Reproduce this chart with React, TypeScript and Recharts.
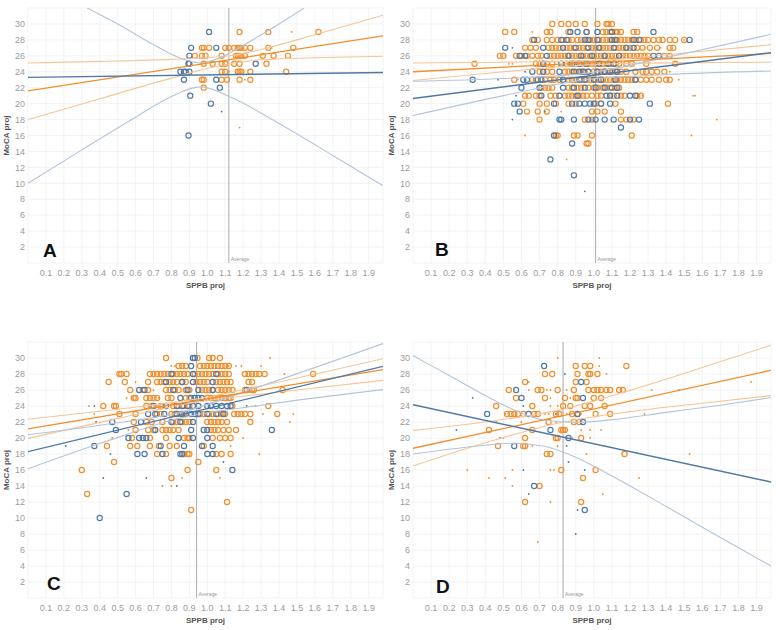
import React from 'react';
import { ScatterChart, Scatter, XAxis, YAxis, CartesianGrid, ReferenceLine, Label } from 'recharts';

type Row = [number, number[]];
type Pt = [number, number];

const xTicks = [0.1, 0.2, 0.3, 0.4, 0.5, 0.6, 0.7, 0.8, 0.9, 1.0, 1.1, 1.2, 1.3, 1.4, 1.5, 1.6, 1.7, 1.8, 1.9];
const yTicks = [2, 4, 6, 8, 10, 12, 14, 16, 18, 20, 22, 24, 26, 28, 30];
const xTitle = 'SPPB proj';
const yTitle = 'MoCA proj';
const avgLabel = 'Average';

// ---------- Panel A ----------
const aAverage = 1.12;
const aOrangeRings: Row[] = [
  [29, [1.18, 1.34, 1.62]],
  [27, [0.97, 0.98, 1.01, 1.10, 1.12, 1.15, 1.17, 1.18, 1.19, 1.21, 1.24, 1.34, 1.48]],
  [26, [0.93, 0.97, 0.99, 1.08, 1.16, 1.17, 1.18, 1.19, 1.21, 1.31, 1.37, 1.45]],
  [25, [0.98, 1.03, 1.08, 1.10, 1.15, 1.18, 1.33]],
  [24, [1.08, 1.10, 1.17, 1.18, 1.19, 1.24, 1.44]],
  [23, [0.97, 0.98, 1.08, 1.11, 1.18, 1.24]],
  [22, [0.98]],
];
const aBlueRings: Row[] = [
  [29, [1.01]],
  [27, [0.91, 1.05]],
  [26, [0.90]],
  [25, [0.895, 0.90, 1.27]],
  [24, [0.85, 0.87, 0.88, 0.90]],
  [23, [0.87, 1.05]],
  [22, [1.07]],
  [21, [0.905]],
  [20, [1.02]],
  [16, [0.895]],
];
const aOrangeDots: Pt[] = [[1.47, 29], [1.18, 17], [1.12, 24], [1.21, 23], [1.36, 27]];
const aBlueDots: Pt[] = [[1.08, 19]];
const aOrangeFit: Pt[] = [[0, 21.6], [1.98, 28.5]];
const aOrangeUpper: Pt[] = [[0, 25.1], [0.4, 25.3], [0.8, 25.55], [1.0, 25.75], [1.15, 26.1], [1.3, 26.8], [1.6, 28.65], [1.98, 31.1]];
const aOrangeLower: Pt[] = [[0, 18.0], [0.4, 20.6], [0.8, 23.2], [1.0, 24.4], [1.15, 25.1], [1.3, 25.5], [1.6, 25.75], [1.98, 25.95]];
const aBlueFit: Pt[] = [[0, 23.3], [1.98, 23.9]];
const aBlueUpper: Pt[] = [[0.33, 32], [0.5, 30], [0.7, 27.4], [0.85, 25.7], [0.96, 25.1], [1.07, 25.75], [1.2, 27.3], [1.35, 29.3], [1.54, 32]];
const aBlueLower: Pt[] = [[0, 10.0], [0.3, 14.2], [0.6, 18.3], [0.8, 20.9], [0.96, 22.1], [1.15, 20.6], [1.4, 17.5], [1.7, 13.5], [1.98, 9.7]];

// ---------- Panel B ----------
const bAverage = 1.01;
const bOrangeRings: Row[] = [
  [30, [0.77, 0.82, 0.86, 0.90, 0.95, 1.02, 1.07, 1.08, 1.10]],
  [29, [0.51, 0.56, 0.74, 0.76, 0.86, 0.96, 1.05, 1.07, 1.09, 1.10, 1.12, 1.13, 1.15, 1.22, 1.24]],
  [28, [0.66, 0.69, 0.74, 0.77, 0.80, 0.83, 0.86, 0.88, 0.91, 0.93, 0.96, 0.98, 1.00, 1.03, 1.05, 1.07, 1.09, 1.11, 1.13, 1.15, 1.17, 1.19, 1.21, 1.23, 1.26, 1.28, 1.30, 1.33, 1.36, 1.38, 1.42, 1.45, 1.50]],
  [27, [0.62, 0.65, 0.68, 0.75, 0.77, 0.79, 0.81, 0.85, 0.87, 0.89, 0.92, 0.94, 0.96, 0.99, 1.01, 1.03, 1.05, 1.07, 1.09, 1.12, 1.14, 1.16, 1.18, 1.20, 1.24, 1.27, 1.31, 1.35, 1.42, 1.44]],
  [26, [0.48, 0.50, 0.57, 0.60, 0.63, 0.66, 0.69, 0.71, 0.76, 0.78, 0.80, 0.82, 0.84, 0.86, 0.88, 0.90, 0.92, 0.94, 0.96, 0.98, 1.00, 1.02, 1.04, 1.06, 1.08, 1.10, 1.12, 1.14, 1.16, 1.18, 1.20, 1.22, 1.24, 1.26, 1.28, 1.30, 1.39, 1.42]],
  [25, [0.34, 0.68, 0.70, 0.72, 0.74, 0.77, 0.85, 0.87, 0.89, 0.91, 0.93, 0.95, 0.97, 0.99, 1.01, 1.03, 1.05, 1.07, 1.09, 1.12, 1.14, 1.18, 1.21, 1.29, 1.45]],
  [24, [0.70, 0.74, 0.77, 0.84, 0.86, 0.88, 0.90, 0.93, 0.95, 0.97, 1.00, 1.02, 1.04, 1.06, 1.08, 1.10, 1.12, 1.15, 1.18, 1.23, 1.27, 1.29, 1.32, 1.35, 1.39]],
  [23, [0.56, 0.66, 0.68, 0.73, 0.76, 0.78, 0.81, 0.86, 0.88, 0.90, 0.93, 0.96, 0.98, 1.01, 1.03, 1.05, 1.07, 1.09, 1.11, 1.13, 1.15, 1.17, 1.19, 1.21, 1.23, 1.26, 1.29, 1.32, 1.36, 1.40, 1.42]],
  [22, [0.71, 0.73, 0.75, 0.77, 0.86, 0.88, 0.91, 0.93, 0.97, 1.00, 1.02, 1.05, 1.07, 1.09, 1.12, 1.14]],
  [21, [0.62, 0.64, 0.68, 0.70, 0.76, 0.79, 0.84, 0.86, 0.88, 0.90, 0.92, 0.94, 0.96, 0.99, 1.02, 1.04, 1.09, 1.11, 1.15, 1.17, 1.24, 1.26]],
  [20, [0.61, 0.70, 0.74, 0.79, 0.86, 0.90, 1.01, 1.04, 1.12, 1.41]],
  [19, [0.63, 0.69, 0.74, 0.99, 1.02, 1.06, 1.15]],
  [18, [0.70, 0.95, 0.99, 1.15, 1.18, 1.22]],
  [16, [0.79, 0.80, 0.89, 0.91, 0.99, 1.21]],
  [15, [0.96, 0.97]],
];
const bBlueRings: Row[] = [
  [29, [0.87, 0.91, 0.96, 1.02, 1.10, 1.33]],
  [28, [0.67, 0.82, 0.85, 0.95, 0.97, 1.02, 1.10, 1.12, 1.22, 1.25, 1.53]],
  [27, [0.51, 0.72, 0.83, 0.90, 0.97, 1.03, 1.11, 1.18, 1.22]],
  [26, [0.59, 0.62, 0.74, 0.86, 0.93, 0.99, 1.06, 1.14, 1.33, 1.36]],
  [25, [0.72, 0.82, 0.88, 0.92, 0.96, 1.03, 1.08, 1.11]],
  [24, [0.66, 0.72, 0.81, 0.89, 0.92, 0.94, 0.97, 1.02, 1.06, 1.09, 1.13]],
  [23, [0.33, 0.61, 0.63, 0.69, 0.71, 0.83, 0.92, 0.95, 1.00, 1.04, 1.12, 1.23]],
  [22, [0.60, 0.70, 0.83, 0.89, 0.95, 1.01, 1.06, 1.10, 1.13]],
  [21, [0.71, 0.81, 0.91, 1.07, 1.09, 1.13, 1.20, 1.23]],
  [20, [0.56, 0.58, 0.78, 0.88, 0.92, 0.95, 0.98, 1.00, 1.04, 1.09, 1.31]],
  [19, [0.59]],
  [18, [0.81, 0.82, 0.89, 0.97, 1.01, 1.06, 1.11, 1.20, 1.25]],
  [17, [1.15]],
  [16, [0.78]],
  [15, [0.88]],
  [13, [0.76]],
  [11, [0.89]],
];
const bOrangeDots: Pt[] = [[0.66, 29], [0.62, 16], [1.54, 16], [1.68, 18], [1.55, 21], [1.56, 21], [0.85, 13], [0.51, 26], [0.53, 25], [0.55, 25], [1.42, 24], [1.37, 27], [1.28, 27], [1.47, 23], [0.58, 23], [1.00, 19], [0.82, 19], [1.50, 28], [1.27, 21], [0.96, 18]];
const bBlueDots: Pt[] = [[0.47, 23], [0.55, 27], [0.55, 18], [0.57, 21], [0.95, 9], [0.62, 24], [0.73, 19], [0.61, 26]];
const bOrangeFit: Pt[] = [[0, 24.0], [1.98, 26.3]];
const bOrangeUpper: Pt[] = [[0, 25.1], [0.5, 25.2], [1.0, 25.4], [1.5, 26.35], [1.98, 27.4]];
const bOrangeLower: Pt[] = [[0, 22.9], [0.5, 24.0], [1.0, 24.9], [1.5, 25.15], [1.98, 25.2]];
const bBlueFit: Pt[] = [[0, 20.65], [1.98, 26.4]];
const bBlueUpper: Pt[] = [[0, 22.8], [0.5, 23.15], [0.95, 23.8], [1.4, 25.8], [1.98, 28.7]];
const bBlueLower: Pt[] = [[0, 18.5], [0.5, 21.0], [0.95, 23.0], [1.4, 23.65], [1.98, 24.1]];

// ---------- Panel C ----------
const cAverage = 0.94;
const cOrangeRings: Row[] = [
  [30, [0.77, 0.945, 1.01, 1.03, 1.07]],
  [29, [0.84, 0.86, 0.88, 0.96, 0.98, 1.00, 1.02, 1.04, 1.06, 1.08, 1.10, 1.12]],
  [28, [0.51, 0.52, 0.55, 0.68, 0.70, 0.72, 0.74, 0.76, 0.78, 0.81, 0.83, 0.85, 0.87, 0.89, 0.93, 0.95, 0.97, 0.99, 1.01, 1.03, 1.06, 1.08, 1.10, 1.12, 1.21, 1.23, 1.25, 1.27, 1.29, 1.32, 1.59]],
  [27, [0.45, 0.54, 0.67, 0.72, 0.74, 0.76, 0.79, 0.81, 0.83, 0.86, 0.88, 0.94, 0.96, 0.98, 1.00, 1.05, 1.07, 1.09, 1.11, 1.13, 1.23, 1.25]],
  [26, [0.57, 0.64, 0.67, 0.77, 0.79, 0.82, 0.84, 0.88, 0.90, 0.97, 0.99, 1.01, 1.03, 1.06, 1.08, 1.10, 1.12, 1.14, 1.21, 1.25, 1.26, 1.42]],
  [25, [0.59, 0.60, 0.66, 0.68, 0.70, 0.72, 0.78, 0.80, 0.88, 0.90, 1.00, 1.02, 1.04, 1.06, 1.08, 1.10, 1.12, 1.13]],
  [24, [0.42, 0.48, 0.49, 0.66, 0.69, 0.74, 0.75, 0.81, 0.84, 0.87, 0.90, 1.14, 1.34]],
  [23, [0.51, 0.60, 0.72, 0.74, 0.80, 0.82, 0.85, 0.87, 0.96, 0.98, 1.01, 1.03, 1.06, 1.08, 1.10, 1.15, 1.17, 1.19, 1.21, 1.24, 1.39]],
  [22, [0.59, 0.66, 0.69, 0.75, 0.81, 0.83, 0.86, 0.88, 0.90, 1.00, 1.02, 1.04, 1.06, 1.08, 1.11, 1.24]],
  [21, [0.60, 0.67, 0.70, 0.75, 0.77, 0.79, 0.81, 0.84, 1.02, 1.04, 1.06, 1.09, 1.12, 1.16]],
  [20, [0.58, 0.68, 0.77, 0.87, 0.89, 0.90, 1.03, 1.07, 1.10, 1.13]],
  [19, [0.44, 0.57, 0.61, 0.68, 0.73, 0.79, 0.83, 0.98]],
  [18, [0.72, 0.77, 0.87, 0.89, 0.90, 1.05, 1.08, 1.13]],
  [17, [0.48, 0.95]],
  [16, [0.30, 0.89, 1.05]],
  [15, [0.80]],
  [13, [0.33]],
  [12, [1.11]],
  [11, [0.91]],
];
const cBlueRings: Row[] = [
  [30, [0.92, 0.93]],
  [29, [0.91]],
  [28, [0.80, 0.92, 1.05]],
  [27, [0.77, 0.86, 0.92, 1.03]],
  [26, [0.62, 0.65, 0.81, 0.89, 0.95, 1.03, 1.22]],
  [25, [0.85, 0.91, 0.93, 0.95, 0.97]],
  [24, [0.70, 0.77, 0.83, 0.86, 0.89, 0.92, 0.95, 1.00, 1.02, 1.05, 1.08, 1.11, 1.13]],
  [23, [0.67, 0.71, 0.76, 0.83, 0.86, 0.88, 0.91, 0.93, 0.95, 1.00, 1.05, 1.09]],
  [22, [0.47, 0.63, 0.80, 0.85, 0.92]],
  [21, [0.49, 0.71, 0.91, 0.98, 1.00, 1.36]],
  [20, [0.56, 0.62, 0.64, 0.66, 0.84, 0.92, 1.00]],
  [19, [0.37, 0.74, 0.87, 0.97, 1.03]],
  [18, [0.61, 0.65, 0.75, 0.85, 0.86, 1.00, 1.03]],
  [16, [1.14]],
  [13, [0.55]],
  [10, [0.40]],
];
const cOrangeDots: Pt[] = [[0.34, 24], [0.37, 23], [0.38, 22], [0.47, 20], [0.56, 21], [0.55, 25], [0.58, 25], [0.60, 27], [0.70, 26], [0.73, 25], [0.80, 29], [0.82, 29], [0.75, 14], [0.80, 14], [0.86, 15], [1.12, 29], [1.16, 29], [1.19, 29], [1.30, 29], [1.35, 30], [1.43, 28], [1.45, 26], [1.48, 23], [1.46, 22], [1.29, 18], [1.07, 15], [1.20, 20], [1.13, 19], [1.27, 24], [1.31, 23]];
const cBlueDots: Pt[] = [[0.21, 19], [0.37, 24], [0.42, 15], [0.46, 18], [0.38, 22], [0.66, 15], [0.83, 14], [1.09, 17], [1.22, 24]];
const cOrangeFit: Pt[] = [[0, 21.15], [1.98, 28.55]];
const cOrangeUpper: Pt[] = [[0, 22.35], [0.5, 23.6], [0.92, 24.8], [1.4, 27.0], [1.98, 29.9]];
const cOrangeLower: Pt[] = [[0, 19.95], [0.5, 22.45], [0.92, 24.4], [1.4, 25.75], [1.98, 27.2]];
const cBlueFit: Pt[] = [[0, 18.3], [1.98, 28.95]];
const cBlueUpper: Pt[] = [[0, 20.4], [0.4, 21.6], [0.85, 23.2], [1.3, 26.5], [1.98, 31.8]];
const cBlueLower: Pt[] = [[0, 16.15], [0.4, 19.3], [0.85, 22.5], [1.3, 24.1], [1.98, 26.05]];

// ---------- Panel D ----------
const dAverage = 0.83;
const dOrangeRings: Row[] = [
  [29, [0.90, 0.95, 0.98, 1.18]],
  [28, [0.73, 0.77, 0.91, 0.97, 0.98, 1.02]],
  [27, [0.62, 0.90, 0.96]],
  [26, [0.53, 0.69, 0.71, 0.80, 0.89, 0.97, 1.00, 1.02, 1.04, 1.07, 1.09, 1.14, 1.16]],
  [25, [0.57, 0.73, 0.84, 0.90, 0.91, 1.00, 1.04]],
  [24, [0.46, 0.66, 0.83, 0.87, 0.95, 0.98, 1.06]],
  [23, [0.52, 0.54, 0.56, 0.58, 0.61, 0.67, 0.69, 0.79, 0.81, 0.88, 0.91, 1.01, 1.09]],
  [22, [0.75, 0.89, 0.92]],
  [21, [0.42, 0.66, 0.82, 0.83, 0.84]],
  [20, [0.62, 0.79, 0.80, 0.93]],
  [19, [0.47, 0.61, 0.62]],
  [18, [0.74, 0.76, 1.17]],
  [16, [0.82, 1.01]],
  [15, [0.94]],
  [14, [0.70]],
  [12, [0.62, 0.93]],
];
const dBlueRings: Row[] = [
  [29, [0.725]],
  [27, [0.93]],
  [26, [0.57]],
  [25, [0.60, 0.94]],
  [23, [0.41, 0.64, 0.91]],
  [22, [0.94]],
  [21, [0.76]],
  [20, [0.86]],
  [19, [0.56]],
  [14, [0.67]],
  [11, [0.95]],
];
const dOrangeDots: Pt[] = [[0.80, 30], [1.03, 30], [1.03, 29], [1.07, 28], [0.64, 27], [1.87, 27], [0.56, 26], [0.64, 26], [0.74, 26], [0.76, 26], [0.85, 26], [1.32, 26], [1.47, 26], [0.76, 25], [0.87, 25], [0.76, 24], [0.80, 24], [0.51, 23], [0.73, 23], [0.75, 23], [0.85, 23], [0.93, 23], [1.28, 23], [0.46, 22], [0.60, 22], [0.79, 22], [0.93, 21], [0.98, 21], [1.04, 21], [0.50, 20], [0.88, 20], [0.98, 20], [0.66, 19], [0.80, 19], [1.53, 18], [0.30, 16], [0.55, 16], [0.76, 16], [0.78, 16], [0.42, 15], [0.51, 15], [1.25, 15], [0.55, 14], [1.05, 13], [0.76, 12], [0.69, 7], [0.96, 18]];
const dBlueDots: Pt[] = [[0.84, 28], [0.33, 25], [0.61, 24], [0.24, 21], [0.66, 21], [0.48, 20], [0.61, 16], [0.95, 16], [0.86, 17], [0.64, 13], [0.91, 11], [0.90, 8], [0.79, 23], [0.85, 19]];
const dOrangeFit: Pt[] = [[0, 18.72], [1.98, 28.46]];
const dOrangeUpper: Pt[] = [[0, 20.95], [0.4, 22.0], [0.8, 23.45], [1.2, 25.95], [1.6, 28.8], [1.98, 31.6]];
const dOrangeLower: Pt[] = [[0, 16.5], [0.4, 19.4], [0.8, 21.85], [1.2, 23.3], [1.6, 24.35], [1.98, 25.3]];
const dBlueFit: Pt[] = [[0, 24.15], [1.98, 14.5]];
const dBlueUpper: Pt[] = [[0, 30.3], [0.2, 27.8], [0.4, 25.3], [0.55, 23.6], [0.72, 22.25], [0.9, 21.95], [1.1, 22.3], [1.4, 23.2], [1.7, 24.1], [1.98, 25.05]];
const dBlueLower: Pt[] = [[0, 18.0], [0.2, 18.6], [0.4, 19.1], [0.55, 19.35], [0.72, 19.0], [0.9, 17.6], [1.1, 15.25], [1.4, 11.45], [1.7, 7.55], [1.98, 4.0]];

// ---------- styles ----------
const ORANGE = '#f28e2b';
const BLUE = '#4e79a7';
const ORANGE_LIGHT = '#f7c596';
const BLUE_LIGHT = '#b3c5da';
const FONT = '"Liberation Sans", Arial, sans-serif';

const fromRows = (rows: Row[]) => rows.flatMap(([y, xs]) => xs.map((x) => ({ x, y })));
const fromPairs = (pairs: Pt[]) => pairs.map(([x, y]) => ({ x, y }));

const ring = (color: string) => (props: any) => (
  <circle cx={props.cx} cy={props.cy} r={2.6} fill="none" stroke={color} strokeWidth={1.15} />
);
const dot = (color: string) => (props: any) => (
  <circle cx={props.cx} cy={props.cy} r={0.9} fill={color} />
);
const noShape = () => <g />;

interface PanelProps {
  left: number;
  top: number;
  plotTop: number;
  yAxisW: number;
  xAxisH: number;
  letter: string;
  letterLeft: number;
  letterTop: number;
  avg: number;
  orangeRings: Row[];
  blueRings: Row[];
  orangeDots: Pt[];
  blueDots: Pt[];
  orangeFit: Pt[];
  orangeUpper: Pt[];
  orangeLower: Pt[];
  blueFit: Pt[];
  blueUpper: Pt[];
  blueLower: Pt[];
}

function Panel(p: PanelProps) {
  const lineSeries = (data: Pt[], color: string, w: number) => (
    <Scatter
      data={fromPairs(data)}
      shape={noShape}
      line={{ stroke: color, strokeWidth: w }}
      lineJointType="monotoneX"
      isAnimationActive={false}
    />
  );
  return (
    <div style={{ position: 'absolute', left: p.left, top: p.top, width: 388, height: 315 }}>
      <ScatterChart width={388} height={315} margin={{ top: p.plotTop, right: 5, bottom: 0, left: 0 }}>
        <CartesianGrid stroke="#f0f0f0" strokeWidth={0.8} />
        <XAxis
          type="number"
          dataKey="x"
          domain={[0, 1.98]}
          ticks={xTicks}
          interval={0}
          allowDataOverflow
          tickFormatter={(v: number) => v.toFixed(1)}
          axisLine={false}
          tickLine={false}
          tickSize={6}
          tickMargin={1}
          height={p.xAxisH}
          tick={{ fontSize: 9, fill: '#9c9c9c', fontFamily: FONT }}
        >
          <Label value={xTitle} position="insideTop" offset={19} fill="#555" fontSize={8} fontWeight="bold" fontFamily={FONT} />
        </XAxis>
        <YAxis
          type="number"
          dataKey="y"
          domain={[0, 32]}
          ticks={yTicks}
          interval={0}
          allowDataOverflow
          axisLine={false}
          tickLine={false}
          tickSize={2}
          tickMargin={1}
          width={p.yAxisW}
          tick={{ fontSize: 9, fill: '#9c9c9c', fontFamily: FONT }}
        >
          <Label
            content={(props: any) => {
              const vb = props.viewBox || { x: 0, y: 0, width: p.yAxisW, height: 255 };
              const cx = vb.x + vb.width - 21.5;
              const cy = vb.y + vb.height / 2;
              return (
                <text
                  x={cx}
                  y={cy}
                  transform={`rotate(-90 ${cx} ${cy})`}
                  textAnchor="middle"
                  dominantBaseline="central"
                  fill="#555"
                  fontSize={8}
                  fontWeight="bold"
                  fontFamily={FONT}
                >
                  {yTitle}
                </text>
              );
            }}
          />
        </YAxis>
        <ReferenceLine
          x={p.avg}
          stroke="#b8b8b8"
          strokeWidth={1.2}
          label={{ value: avgLabel, position: 'insideBottomLeft', offset: 2, fontSize: 5, fill: '#999', fontFamily: FONT }}
        />
        <Scatter data={fromRows(p.orangeRings)} shape={ring(ORANGE)} isAnimationActive={false} />
        <Scatter data={fromRows(p.blueRings)} shape={ring(BLUE)} isAnimationActive={false} />
        <Scatter data={fromPairs(p.orangeDots)} shape={dot(ORANGE)} isAnimationActive={false} />
        <Scatter data={fromPairs(p.blueDots)} shape={dot(BLUE)} isAnimationActive={false} />
        {lineSeries(p.orangeUpper, ORANGE_LIGHT, 1.1)}
        {lineSeries(p.orangeLower, ORANGE_LIGHT, 1.1)}
        {lineSeries(p.blueUpper, BLUE_LIGHT, 1.1)}
        {lineSeries(p.blueLower, BLUE_LIGHT, 1.1)}
        {lineSeries(p.orangeFit, ORANGE, 1.3)}
        {lineSeries(p.blueFit, BLUE, 1.4)}
      </ScatterChart>
      <div
        style={{
          position: 'absolute',
          left: p.letterLeft,
          top: p.letterTop,
          fontFamily: FONT,
          fontWeight: 'bold',
          fontSize: 19,
          lineHeight: '19px',
          color: '#111',
        }}
      >
        {p.letter}
      </div>
    </div>
  );
}

export default function App() {
  return (
    <div style={{ position: 'absolute', left: 0, top: 0, width: 776, height: 630, background: '#fff', overflow: 'hidden' }}>
      <Panel
        left={0} top={0} plotTop={8} yAxisW={28} xAxisH={52}
        letter="A" letterLeft={43} letterTop={241} avg={aAverage}
        orangeRings={aOrangeRings} blueRings={aBlueRings} orangeDots={aOrangeDots} blueDots={aBlueDots}
        orangeFit={aOrangeFit} orangeUpper={aOrangeUpper} orangeLower={aOrangeLower}
        blueFit={aBlueFit} blueUpper={aBlueUpper} blueLower={aBlueLower}
      />
      <Panel
        left={388} top={0} plotTop={8} yAxisW={25} xAxisH={52}
        letter="B" letterLeft={47} letterTop={240} avg={bAverage}
        orangeRings={bOrangeRings} blueRings={bBlueRings} orangeDots={bOrangeDots} blueDots={bBlueDots}
        orangeFit={bOrangeFit} orangeUpper={bOrangeUpper} orangeLower={bOrangeLower}
        blueFit={bBlueFit} blueUpper={bBlueUpper} blueLower={bBlueLower}
      />
      <Panel
        left={0} top={315} plotTop={27} yAxisW={28} xAxisH={32}
        letter="C" letterLeft={47} letterTop={259} avg={cAverage}
        orangeRings={cOrangeRings} blueRings={cBlueRings} orangeDots={cOrangeDots} blueDots={cBlueDots}
        orangeFit={cOrangeFit} orangeUpper={cOrangeUpper} orangeLower={cOrangeLower}
        blueFit={cBlueFit} blueUpper={cBlueUpper} blueLower={cBlueLower}
      />
      <Panel
        left={388} top={315} plotTop={27} yAxisW={25} xAxisH={32}
        letter="D" letterLeft={48} letterTop={262} avg={dAverage}
        orangeRings={dOrangeRings} blueRings={dBlueRings} orangeDots={dOrangeDots} blueDots={dBlueDots}
        orangeFit={dOrangeFit} orangeUpper={dOrangeUpper} orangeLower={dOrangeLower}
        blueFit={dBlueFit} blueUpper={dBlueUpper} blueLower={dBlueLower}
      />
    </div>
  );
}
